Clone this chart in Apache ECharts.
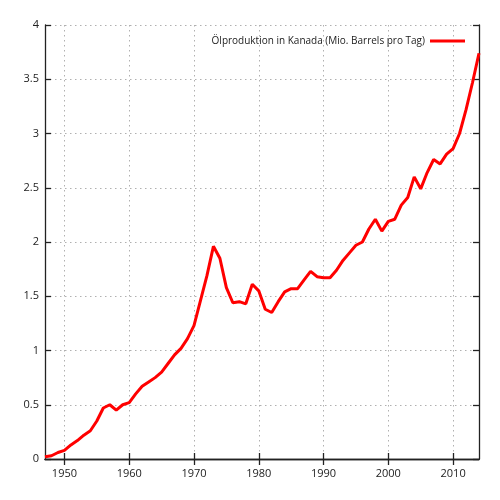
<!DOCTYPE html>
<html><head><meta charset="utf-8">
<script src="https://cdn.jsdelivr.net/npm/echarts@6/dist/echarts.min.js"></script>
<style>html,body{margin:0;padding:0;background:#fff}#c{width:500px;height:500px}</style>
</head><body><div id="c"></div>
<script>
const years = [1947,1948,1949,1950,1951,1952,1953,1954,1955,1956,1957,1958,1959,1960,1961,1962,1963,1964,1965,1966,1967,1968,1969,1970,1971,1972,1973,1974,1975,1976,1977,1978,1979,1980,1981,1982,1983,1984,1985,1986,1987,1988,1989,1990,1991,1992,1993,1994,1995,1996,1997,1998,1999,2000,2001,2002,2003,2004,2005,2006,2007,2008,2009,2010,2011,2012,2013,2014];
const production = [0.02,0.03,0.06,0.08,0.13,0.17,0.22,0.26,0.35,0.47,0.50,0.45,0.50,0.52,0.60,0.67,0.71,0.75,0.80,0.88,0.96,1.02,1.11,1.23,1.46,1.69,1.96,1.85,1.58,1.44,1.45,1.43,1.61,1.55,1.38,1.35,1.45,1.54,1.57,1.57,1.65,1.73,1.68,1.67,1.67,1.74,1.83,1.90,1.97,2.00,2.12,2.21,2.10,2.19,2.21,2.34,2.41,2.60,2.49,2.64,2.76,2.72,2.81,2.86,3.00,3.22,3.47,3.74];
const xTicks = [1950,1960,1970,1980,1990,2000,2010];
const seriesName = 'Ölproduktion in Kanada (Mio. Barrels pro Tag)';

const FONT = 'Open Sans';
const chart = echarts.init(document.getElementById('c'), null, {renderer:'canvas'});
const gridLine = {show:true, lineStyle:{color:'#b0b0b0', width:1, type:[1.5,3.5]}};
chart.setOption({
  animation:false,
  grid:{left:45, right:21, top:25, bottom:41},
  legend:{
    right:30, top:31, align:'right', itemWidth:35, itemHeight:3, icon:'rect',
    textStyle:{fontFamily:FONT, fontSize:10, color:'#222'},
    data:[seriesName]
  },
  xAxis:[{
    type:'value', min:1947, max:2014, position:'bottom',
    axisLine:{show:true, lineStyle:{color:'#222', width:1.3}},
    axisTick:{show:true, inside:true, length:6, customValues:xTicks, lineStyle:{color:'#222', width:1.3}},
    axisLabel:{customValues:xTicks, margin:9, fontFamily:FONT, fontSize:11, color:'#222', formatter:v=>String(v)},
    splitLine:gridLine
  },{
    type:'value', min:1947, max:2014, position:'top',
    axisLine:{show:true, lineStyle:{color:'#222', width:1.3}},
    axisTick:{show:true, inside:true, length:6, customValues:xTicks, lineStyle:{color:'#222', width:1.3}},
    axisLabel:{show:false}, splitLine:{show:false}
  }],
  yAxis:[{
    type:'value', min:0, max:4, interval:0.5, position:'left',
    axisLine:{show:true, lineStyle:{color:'#222', width:1.3}},
    axisTick:{show:true, inside:true, length:6, lineStyle:{color:'#222', width:1.3}},
    axisLabel:{margin:6, fontFamily:FONT, fontSize:11, color:'#222'},
    splitLine:gridLine
  },{
    type:'value', min:0, max:4, interval:0.5, position:'right',
    axisLine:{show:true, lineStyle:{color:'#222', width:1.3}},
    axisTick:{show:true, inside:true, length:6, lineStyle:{color:'#222', width:1.3}},
    axisLabel:{show:false}, splitLine:{show:false}
  }],
  series:[{
    name:seriesName, type:'line', xAxisIndex:0, yAxisIndex:0,
    data: years.map((y,i)=>[y, production[i]]),
    showSymbol:false, symbol:'none',
    lineStyle:{color:'#ff0000', width:3},
    itemStyle:{color:'#ff0000'}
  }]
});
</script></body></html>
